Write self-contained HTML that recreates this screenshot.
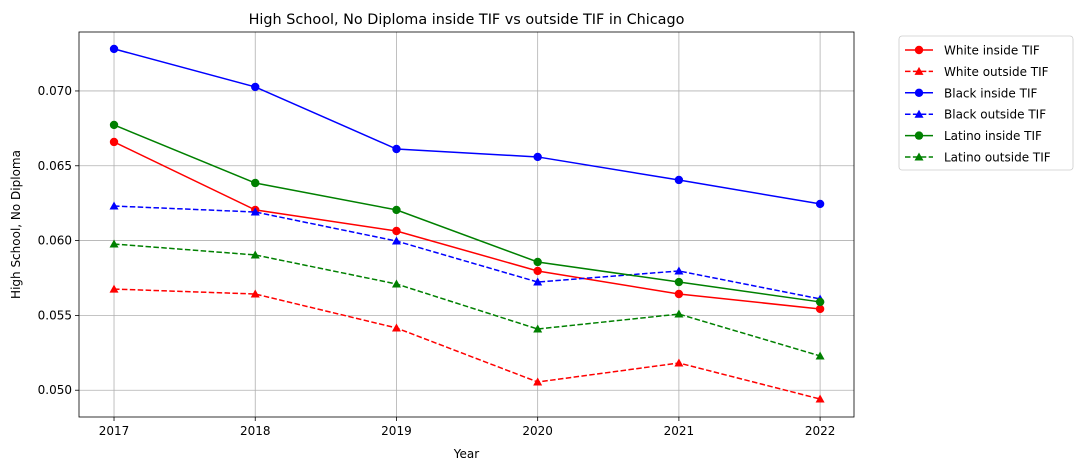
<!DOCTYPE html>
<html><head><meta charset="utf-8"><style>
body{margin:0;background:#fff;font-family:"Liberation Sans","DejaVu Sans",sans-serif;}
svg text{font-family:"DejaVu Sans","Liberation Sans",sans-serif;}
</style></head><body>
<svg id="chart" width="1082" height="470" xmlns="http://www.w3.org/2000/svg">
<rect width="1082" height="470" fill="#fff"/>
<g id="grid"></g><g id="axes"></g><g id="series"></g><g id="legend"></g>
</svg>
<script>
const years = [2017, 2018, 2019, 2020, 2021, 2022];
const whiteInside = [0.06659, 0.06205, 0.06064, 0.05797, 0.05643, 0.05543];
const whiteOutside = [0.05676, 0.05643, 0.05416, 0.05055, 0.05182, 0.04941];
const blackInside = [0.07281, 0.07027, 0.06612, 0.06559, 0.06405, 0.06245];
const blackOutside = [0.06231, 0.06191, 0.05997, 0.05723, 0.05797, 0.0561];
const latinoInside = [0.06773, 0.06385, 0.06205, 0.05857, 0.05723, 0.0559];
const latinoOutside = [0.05977, 0.05904, 0.0571, 0.05409, 0.05509, 0.05229];
const yTicks = [0.050, 0.055, 0.060, 0.065, 0.070];
const yTickLabels = ["0.050", "0.055", "0.060", "0.065", "0.070"];
const seriesNames = ["White inside TIF","White outside TIF","Black inside TIF","Black outside TIF","Latino inside TIF","Latino outside TIF"];

const NS="http://www.w3.org/2000/svg";
const L=79,R=854,T=32,B=417;
const xMin=2016.752,xMax=2022.24,yMin=0.04821,yMax=0.07394;
const xs=v=>L+(v-xMin)/(xMax-xMin)*(R-L);
const ys=v=>B-(v-yMin)/(yMax-yMin)*(B-T);
function mk(tag,attrs,parent,text){const e=document.createElementNS(NS,tag);for(const k in attrs)e.setAttribute(k,attrs[k]);if(text!==undefined)e.textContent=text;parent.appendChild(e);return e;}
const grid=document.getElementById('grid'),axes=document.getElementById('axes'),ser=document.getElementById('series'),leg=document.getElementById('legend');

years.forEach(y=>{const x=xs(y);
 const g=mk('line',{x1:x,x2:x,y1:T,y2:B,stroke:'#b0b0b0','stroke-width':0.8},grid);
 
 mk('line',{x1:x,x2:x,y1:B,y2:B+4,stroke:'#000','stroke-width':0.8},axes);
 const t=mk('text',{x:x,y:B+18,'font-size':12,'text-anchor':'middle'},axes,String(y));
 
});
yTicks.forEach((v,i)=>{const y=ys(v);
 const g=mk('line',{x1:L,x2:R,y1:y,y2:y,stroke:'#b0b0b0','stroke-width':0.8},grid);
 
 mk('line',{x1:L-4,x2:L,y1:y,y2:y,stroke:'#000','stroke-width':0.8},axes);
 const t=mk('text',{x:L-7,y:y+4,'font-size':12,'text-anchor':'end'},axes,yTickLabels[i]);
 
});
const frame=mk('rect',{x:L,y:T,width:R-L,height:B-T,fill:'none',stroke:'#000','stroke-width':0.8},axes);

const title=mk('text',{x:(L+R)/2,y:24,'font-size':14.4,'text-anchor':'middle'},axes,'High School, No Diploma inside TIF vs outside TIF in Chicago');

const xt=mk('text',{x:(L+R)/2,y:458,'font-size':12,'text-anchor':'middle'},axes,'Year');

const yt=mk('text',{x:20,y:(T+B)/2,'font-size':12,'text-anchor':'middle',transform:`rotate(-90 20 ${(T+B)/2})`},axes,'High School, No Diploma');


const data=[whiteInside,whiteOutside,blackInside,blackOutside,latinoInside,latinoOutside];
const colors=['#ff0000','#ff0000','#0000ff','#0000ff','#008000','#008000'];
function marker(parent,x,y,c,tri){
 if(tri) return mk('polygon',{points:`${x},${y-4.5} ${x-4.5},${y+3.5} ${x+4.5},${y+3.5}`,fill:c},parent);
 return mk('circle',{cx:x,cy:y,r:4.2,fill:c},parent);
}
data.forEach((arr,si)=>{
 const c=colors[si],dashed=si%2===1;
 const g=mk('g',{},ser);
 
 
 const pts=arr.map((v,i)=>xs(years[i])+','+ys(v)).join(' ');
 mk('polyline',{points:pts,fill:'none',stroke:c,'stroke-width':1.5,'stroke-dasharray':dashed?'5.5,2.4':'none'},g);
 arr.forEach((v,i)=>{const m=marker(g,xs(years[i]),ys(v),c,dashed);
  });
});

const lb=mk('rect',{x:899,y:36,width:174,height:134,rx:3,fill:'#fff',stroke:'#cccccc','stroke-width':0.8},leg);

seriesNames.forEach((n,i)=>{
 const y=50+i*21.4,c=colors[i],dashed=i%2===1;
 const g=mk('g',{},leg);
 
 mk('line',{x1:905,x2:933,y1:y,y2:y,stroke:c,'stroke-width':1.5,'stroke-dasharray':dashed?'5.5,2.4':'none'},g);
 marker(g,919,y,c,dashed);
 mk('text',{x:944,y:y+4.5,'font-size':12},g,n);
});
</script>
</body></html>
